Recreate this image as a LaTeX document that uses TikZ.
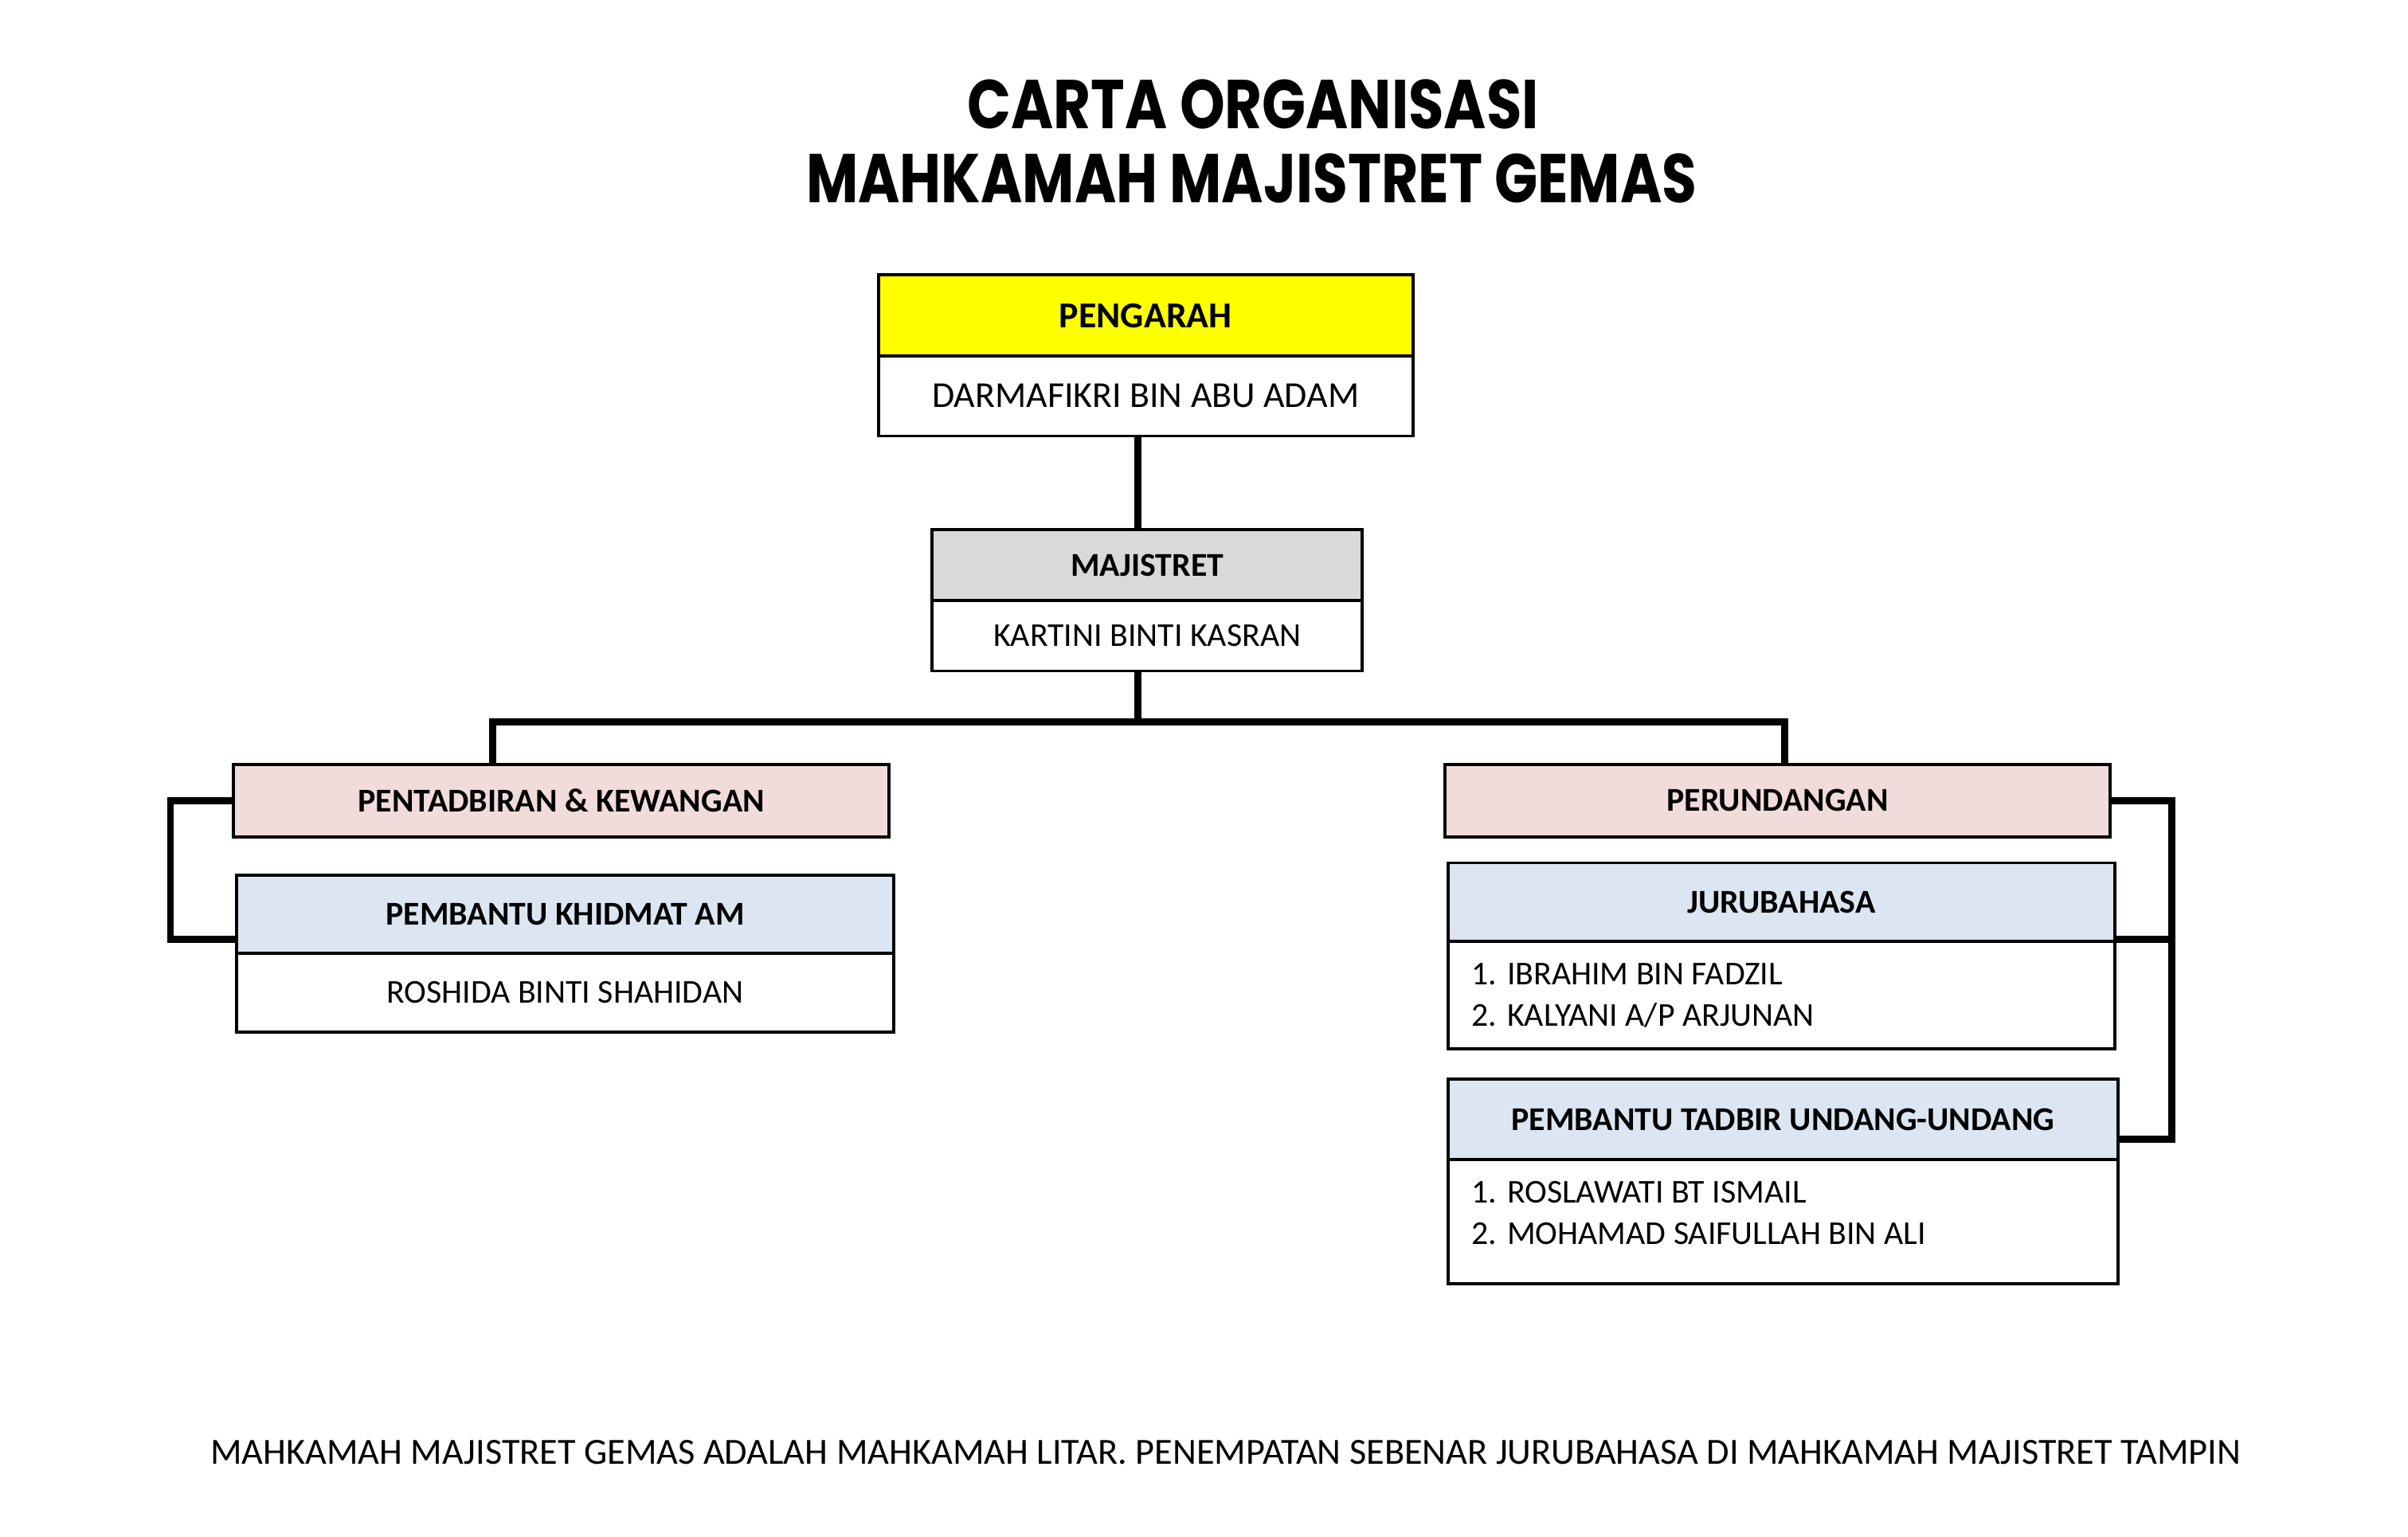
\documentclass[tikz,border=0pt]{standalone}
\usepackage{fontspec}
\usepackage{graphicx}
\setmainfont{Carlito}
\newfontfamily\titlefont{Poppins}
\usetikzlibrary{calc}
\definecolor{hdyellow}{HTML}{FFFF00}
\definecolor{hdgray}{HTML}{D9D9D9}
\definecolor{hdpink}{HTML}{F2DCDB}
\definecolor{hdblue}{HTML}{DCE6F2}
\begin{document}
\begin{tikzpicture}[x=0.5pt,y=-0.5pt,
  cell/.style={draw=black, line width=1pt, rectangle, inner sep=0pt, fill=white},
  bigtxt/.style={font=\fontsize{11.9}{14}\selectfont},
  smalltxt/.style={font=\fontsize{10.85}{13.5}\selectfont},
  foottxt/.style={font=\fontsize{12}{14}\selectfont},
  listtxt/.style={font=\fontsize{10.85}{13.5}\selectfont, align=left, inner sep=0pt, anchor=west},
  link/.style={draw=black, line width=2.3pt, line join=miter}]
\useasboundingbox[fill=white] (0,0) rectangle (1568,1001);

% title
\node (t1) at (816,68) {\resizebox{186pt}{16pt}{\titlefont\bfseries CARTA ORGANISASI}};
\node (t2) at (815,116) {\resizebox{290pt}{16pt}{\titlefont\bfseries MAHKAMAH MAJISTRET GEMAS}};

% junction points
\coordinate (j) at (741,470);
\coordinate (jl) at (321,470);
\coordinate (jr) at (1162,470);
\coordinate (bl) at (111,612);
\coordinate (br) at (1414,742);

% boxes
\node[cell, fill=hdyellow, bigtxt, minimum width=174pt, minimum height=26.5pt] (pengh) at (746,205.5) {\bfseries PENGARAH};
\node[cell, bigtxt, minimum width=174pt, minimum height=26pt] (pengb) at (746,258) {DARMAFIKRI BIN ABU ADAM};

\node[cell, fill=hdgray, smalltxt, minimum width=140pt, minimum height=23pt] (majh) at (747,368) {\bfseries MAJISTRET};
\node[cell, smalltxt, minimum width=140pt, minimum height=23pt] (majb) at (747,414) {KARTINI BINTI KASRAN};

\node[cell, fill=hdpink, smalltxt, minimum width=213.5pt, minimum height=23.5pt] (pent) at (365.5,521.5) {\bfseries PENTADBIRAN \& KEWANGAN};
\node[cell, fill=hdpink, smalltxt, minimum width=216.5pt, minimum height=23.5pt] (perund) at (1157.5,521.5) {\bfseries PERUNDANGAN};

\node[cell, fill=hdblue, smalltxt, minimum width=214pt, minimum height=25.5pt] (pkah) at (368,595.5) {\bfseries PEMBANTU KHIDMAT AM};
\node[cell, smalltxt, minimum width=214pt, minimum height=25.5pt] (pkab) at (368,646.5) {ROSHIDA BINTI SHAHIDAN};

\node[cell, fill=hdblue, smalltxt, minimum width=217pt, minimum height=25.5pt] (juruh) at (1160,587.5) {\bfseries JURUBAHASA};
\node[cell, minimum width=217pt, minimum height=35pt] (jurub) at (1160,648) {};
\node[listtxt] (jurut) at ($(jurub.west)+(16,0.5)$) {1. IBRAHIM BIN FADZIL\\2. KALYANI A/P ARJUNAN};

\node[cell, fill=hdblue, smalltxt, minimum width=218pt, minimum height=26pt] (ptuh) at (1161,729) {\bfseries PEMBANTU TADBIR UNDANG-UNDANG};
\node[cell, minimum width=218pt, minimum height=40.5pt] (ptub) at (1161,795.5) {};
\node[listtxt] (ptut) at ($(ptub.west)+(16,-5.5)$) {1. ROSLAWATI BT ISMAIL\\2. MOHAMAD SAIFULLAH BIN ALI};

% connectors
\draw[link] (pengb.south -| j) -- (majh.north -| j);
\draw[link] (majb.south -| j) -- (j);
\draw[link] (pent.north -| jl) -- (jl) -- (jr) -- (perund.north -| jr);
\draw[link] (pent.west) -| (bl) -- (bl -| pkah.west);
\draw[link] (perund.east) -| (br) -- (br -| ptuh.east);
\draw[link] (jurub.north east) -- (jurub.north east -| br);

% footer
\node[foottxt] (foot) at (798,946) {MAHKAMAH MAJISTRET GEMAS ADALAH MAHKAMAH LITAR. PENEMPATAN SEBENAR JURUBAHASA DI MAHKAMAH MAJISTRET TAMPIN};
\end{tikzpicture}
\end{document}
